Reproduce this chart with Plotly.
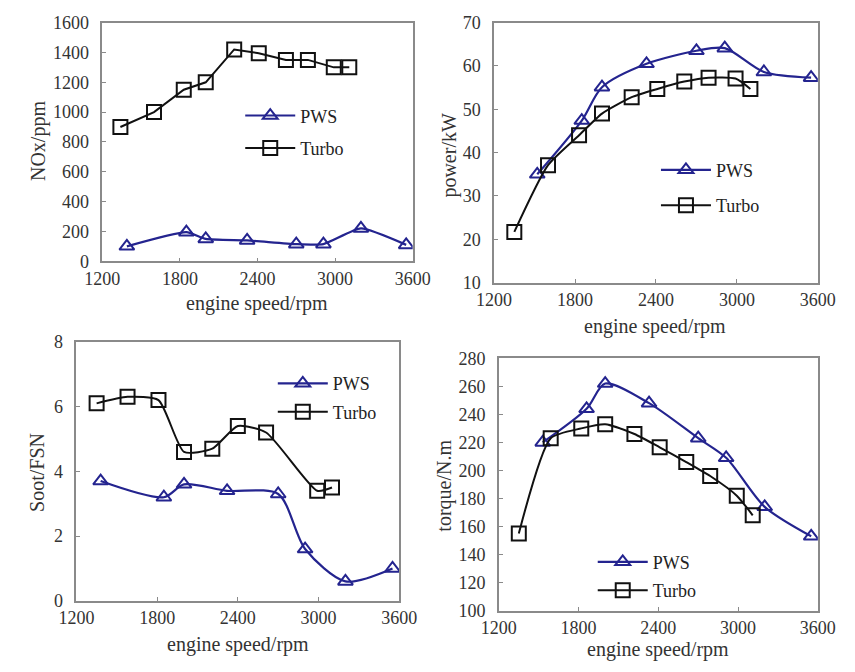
import plotly.graph_objects as go

# Engine speed / measured values for the four panels
nox_pws_rpm = [1390, 1850, 2000, 2320, 2700, 2910, 3200, 3550]
nox_pws = [100, 195, 150, 140, 115, 115, 220, 110]
nox_turbo_rpm = [1340, 1600, 1830, 2000, 2220, 2410, 2620, 2790, 2990, 3110]
nox_turbo = [900, 1000, 1150, 1200, 1420, 1395, 1350, 1350, 1300, 1300]

power_pws_rpm = [1520, 1850, 2000, 2330, 2700, 2910, 3200, 3550]
power_pws = [35.0, 47.4, 55.1, 60.5, 63.5, 64.1, 58.6, 57.3]
power_turbo_rpm = [1350, 1600, 1830, 2000, 2220, 2410, 2610, 2790, 2990, 3100]
power_turbo = [21.7, 37.1, 44.0, 49.0, 52.8, 54.7, 56.4, 57.3, 57.1, 54.7]

soot_pws_rpm = [1380, 1850, 2000, 2320, 2700, 2900, 3200, 3550]
soot_pws = [3.7, 3.2, 3.6, 3.4, 3.3, 1.6, 0.6, 1.0]
soot_turbo_rpm = [1350, 1580, 1810, 2000, 2210, 2400, 2610, 2990, 3100]
soot_turbo = [6.1, 6.3, 6.2, 4.6, 4.7, 5.4, 5.2, 3.4, 3.5]

torque_pws_rpm = [1530, 1860, 2000, 2330, 2700, 2910, 3200, 3550]
torque_pws = [220, 244, 262, 248, 223, 209, 174, 153]
torque_turbo_rpm = [1350, 1590, 1820, 2000, 2220, 2410, 2610, 2790, 2990, 3110]
torque_turbo = [155, 223, 230, 233, 226, 216.5, 206, 196, 182, 168]

speed_ticks = [1200, 1800, 2400, 3000, 3600]

W, H = 855, 672
PWS_COLOR = "#24248f"
TURBO_COLOR = "#111111"
FONT = "Liberation Serif"
AXIS_COLOR = "#8a8a8a"


def px_x(x):
    return x / W


def px_y(y):
    return 1 - y / H


fig = go.Figure()

panels = [
    # (suffix, pws data, turbo data, turbo shape, pws smoothing)
    ("", (nox_pws_rpm, nox_pws), (nox_turbo_rpm, nox_turbo), "linear", 0.5),
    ("2", (power_pws_rpm, power_pws), (power_turbo_rpm, power_turbo), "spline", 0.8),
    ("3", (soot_pws_rpm, soot_pws), (soot_turbo_rpm, soot_turbo), "spline", 0.8),
    ("4", (torque_pws_rpm, torque_pws), (torque_turbo_rpm, torque_turbo), "spline", 0.8),
]

for i, (sfx, pws, turbo, tshape, smooth) in enumerate(panels):
    legend_name = "legend" + sfx
    fig.add_trace(go.Scatter(
        x=pws[0], y=pws[1], name="PWS", mode="lines+markers",
        xaxis="x" + sfx, yaxis="y" + sfx, legend=legend_name,
        legendgroup="pws" + sfx,
        line=dict(color=PWS_COLOR, width=2.2, shape="spline", smoothing=smooth),
        marker=dict(symbol="triangle-up-open", size=13, color=PWS_COLOR,
                    line=dict(width=2, color=PWS_COLOR)),
    ))
    fig.add_trace(go.Scatter(
        x=turbo[0], y=turbo[1], name="Turbo", mode="lines+markers",
        xaxis="x" + sfx, yaxis="y" + sfx, legend=legend_name,
        legendgroup="turbo" + sfx,
        line=dict(color=TURBO_COLOR, width=2, shape=tshape,
                  smoothing=0.6 if tshape == "spline" else None),
        marker=dict(symbol="square-open", size=14, color=TURBO_COLOR,
                    line=dict(width=2, color=TURBO_COLOR)),
    ))

# Plot area of each panel in pixels: left, right, top, bottom
boxes = {
    "": (88, 412, 13, 259),
    "2": (497, 835, 13, 281),
    "3": (61, 398, 342, 609),
    "4": (502, 835, 359, 619),
}
y_ranges = {"": (0, 1600, 200), "2": (10, 70, 10), "3": (0, 8, 2), "4": (100, 280, 20)}

axis_common = dict(
    showgrid=False, zeroline=False, showline=True, mirror=True,
    linecolor=AXIS_COLOR, linewidth=1.5, ticks="inside", ticklen=4,
    tickcolor=AXIS_COLOR, tickwidth=1,
    tickfont=dict(family=FONT, size=18, color="#333333"),
)

layout_axes = {}
for sfx, (l, r, t, b) in boxes.items():
    ylo, yhi, ystep = y_ranges[sfx]
    layout_axes["xaxis" + sfx] = dict(
        axis_common, domain=[px_x(l), px_x(r)], range=[1200, 3600],
        tickvals=speed_ticks, anchor="y" + sfx, ticklabelstandoff=0,
    )
    layout_axes["yaxis" + sfx] = dict(
        axis_common, domain=[px_y(b), px_y(t)], range=[ylo, yhi],
        tickvals=list(range(ylo, yhi + 1, ystep)), anchor="x" + sfx,
        ticklabelstandoff=8,
    )

# Legends: (left px, top px, gap between rows)
legend_pos = {"": (232, 90, 6), "2": (666, 146, 9), "3": (266, 366, 2), "4": (600, 550, 2)}
legends = {}
for sfx, (lx, ty, gap) in legend_pos.items():
    legends["legend" + sfx] = dict(
        x=px_x(lx), y=px_y(ty), xanchor="left", yanchor="top",
        bgcolor="rgba(0,0,0,0)", borderwidth=0, itemwidth=50,
        traceorder="grouped", tracegroupgap=gap,
        font=dict(family=FONT, size=18, color="#222222"),
    )

# Axis titles
titles = [
    ("NOx/ppm", 22, 135, -90),
    ("engine speed/rpm", 250, 302, 0),
    ("power/kW", 450, 150, -90),
    ("engine speed/rpm", 665, 326, 0),
    ("Soot/FSN", 20, 477, -90),
    ("engine speed/rpm", 230, 654, 0),
    ("torque/N.m", 445, 490, -90),
    ("engine speed/rpm", 668, 659, 0),
]
annotations = [
    dict(text=txt, x=px_x(x), y=px_y(y), xref="paper", yref="paper",
         xanchor="center", yanchor="middle", showarrow=False, textangle=ang,
         font=dict(family=FONT, size=20, color="#333333"))
    for txt, x, y, ang in titles
]

fig.update_layout(
    width=W, height=H,
    margin=dict(l=0, r=0, t=0, b=0),
    paper_bgcolor="white", plot_bgcolor="white",
    annotations=annotations,
    **layout_axes, **legends,
)

fig.write_html("out.html")
